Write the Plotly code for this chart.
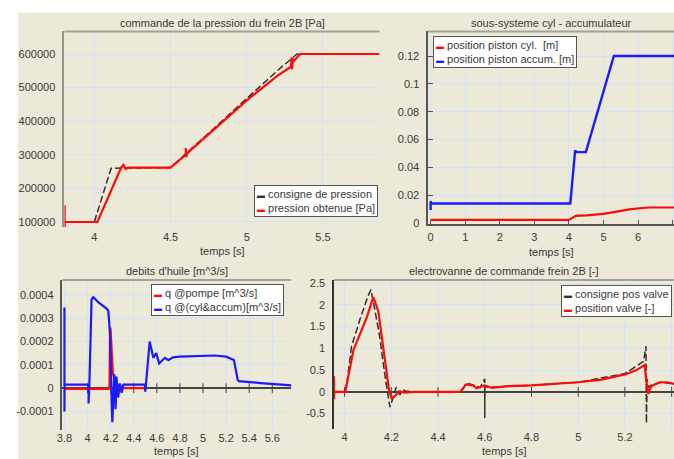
import plotly.graph_objects as go

# ---------------- data ----------------
# Panel 1 : commande de la pression du frein 2B [Pa]
p1_title = "commande de la pression du frein 2B [Pa]"
p1_names = ["consigne de pression", "pression obtenue [Pa]"]
p1_cons_t = [3.805, 4.0, 4.11, 4.2, 4.5, 4.8, 5.0, 5.2, 5.33, 5.87]
p1_cons_p = [100000, 100000, 260000, 260000, 262000, 385000, 467000, 550000, 600000, 600000]
p1_obt_t = [3.805, 3.805, 3.806, 4.02, 4.176, 4.19, 4.205, 4.22, 4.5, 4.6, 4.6, 4.602, 4.61,
            4.8, 5.0, 5.2, 5.29, 5.295, 5.298, 5.302, 5.31, 5.35, 5.87]
p1_obt_p = [150000, 85000, 100000, 100000, 262000, 270000, 258000, 262000, 262000, 300000, 320000,
            293000, 305000, 382000, 462000, 535000, 562000, 590000, 555000, 585000, 580000, 600000, 600000]
p1_xticks = [4, 4.5, 5, 5.5]
p1_xtext = ["4", "4.5", "5", "5.5"]
p1_yticks = [100000, 200000, 300000, 400000, 500000, 600000]
p1_ytext = ["100000", "200000", "300000", "400000", "500000", "600000"]

# Panel 2 : sous-systeme cyl - accumulateur
p2_title = "sous-systeme cyl - accumulateur"
p2_names = ["position piston cyl.  [m]", "position piston accum. [m]"]
p2_cyl_t = [0, 4.0, 4.2, 4.5, 5.0, 5.5, 5.8, 6.3, 7.05]
p2_cyl_y = [0.0023, 0.0023, 0.0052, 0.0055, 0.0066, 0.0085, 0.0100, 0.0112, 0.0112]
p2_acc_t = [0, 0, 0.03, 4.04, 4.18, 4.22, 4.49, 5.30, 7.05]
p2_acc_y = [0.0094, 0.0157, 0.0141, 0.0141, 0.0522, 0.0510, 0.0510, 0.12, 0.12]
p2_xticks = [0, 1, 2, 3, 4, 5, 6, 7]
p2_xtext = ["0", "1", "2", "3", "4", "5", "6", "7"]
p2_yticks = [0, 0.02, 0.04, 0.06, 0.08, 0.1, 0.12]
p2_ytext = ["0", "0.02", "0.04", "0.06", "0.08", "0.1", "0.12"]

# Panel 3 : debits d'huile [m^3/s]
p3_title = "debits d'huile [m^3/s]"
p3_names = ["q @pompe [m^3/s]", "q @(cyl&accum)[m^3/s]"]
p3_pompe_t = [3.8, 4.19, 4.195, 4.2, 4.21, 4.22, 4.24, 4.27, 4.3, 4.5]
p3_pompe_q = [-0.000003, -0.000003, 0.00026, 0.00025, 0.00015, 0.00006, 0.00003, 0.00001, 0.0, 0.0]
p3_cyl_t = [3.8, 3.8, 3.801, 4.009, 4.009, 4.015, 4.035, 4.05, 4.1, 4.167, 4.18, 4.195, 4.21, 4.215,
            4.232, 4.243, 4.25, 4.265, 4.28, 4.295, 4.31, 4.496, 4.5, 4.52, 4.538, 4.57, 4.595,
            4.62, 4.67, 4.7, 4.74, 4.8, 5.0, 5.1, 5.2, 5.268, 5.3, 5.31, 5.5, 5.766]
p3_cyl_q = [0.000346, -0.0001, 0.000015, 0.000015, -0.000066, 0.0, 0.00038, 0.00039, 0.000365, 0.00034,
            0.00033, 0.00023, -0.00008, -0.000146, 0.00006, -0.00009, 0.00005, -0.00004, 0.00002,
            -0.00002, 0.000015, 0.000015, -0.000015, 0.0001, 0.0002, 0.00013, 0.00015, 0.000106,
            0.00013, 0.00012, 0.000132, 0.000135, 0.00014, 0.00014, 0.000135, 0.000121, 0.000037,
            0.00003, 0.000022, 0.000012]
p3_xticks = [3.8, 4.0, 4.2, 4.4, 4.6, 4.8, 5.0, 5.2, 5.4, 5.6]
p3_xtext = ["3.8", "4", "4.2", "4.4", "4.6", "4.8", "5", "5.2", "5.4", "5.6"]
p3_yticks = [-0.0001, 0, 0.0001, 0.0002, 0.0003, 0.0004]
p3_ytext = ["-0.0001", "0", "0.0001", "0.0002", "0.0003", "0.0004"]

# Panel 4 : electrovanne de commande frein 2B [-]
p4_title = "electrovanne de commande frein 2B [-]"
p4_names = ["consigne pos valve", "position valve [-]"]
p4_cons_t = [3.955, 4.0, 4.01, 4.03, 4.065, 4.1, 4.113, 4.148, 4.173, 4.194, 4.21, 4.22, 4.237, 4.25,
             4.26, 4.3, 4.5, 4.52, 4.55, 4.58, 4.6, 4.6, 4.6, 4.62, 4.7, 4.8, 5.0, 5.2, 5.28, 5.29,
             5.292, 5.295, 5.3, 5.31, 5.35, 5.415]
p4_cons_v = [0, 0, 0.2, 1.05, 1.65, 2.2, 2.35, 1.35, 0.37, -0.35, -0.1, 0.1, -0.06, 0.05, 0.02, 0, 0,
             0.2, 0.16, 0.1, 0.3, -0.6, 0.12, 0.1, 0.13, 0.15, 0.22, 0.42, 0.7, 1.05, -0.72, 0.3, 0.1,
             0.15, 0.22, 0.18]
p4_pos_t = [3.955, 3.955, 3.956, 4.003, 4.038, 4.095, 4.123, 4.144, 4.165, 4.19, 4.201, 4.215, 4.236,
            4.257, 4.3, 4.495, 4.52, 4.55, 4.565, 4.6, 4.63, 4.65, 4.7, 4.8, 4.9, 5.0, 5.1, 5.2, 5.25,
            5.285, 5.29, 5.3, 5.31, 5.32, 5.35, 5.38, 5.415]
p4_pos_v = [0.36, -0.17, 0.0, 0.0, 0.96, 1.71, 2.18, 1.86, 1.03, 0.05, -0.15, -0.1, 0.015, -0.02, 0.0,
            0.0, 0.17, 0.15, 0.08, 0.15, 0.09, 0.1, 0.13, 0.15, 0.18, 0.22, 0.28, 0.4, 0.5, 0.62, 0.3,
            -0.05, 0.1, 0.15, 0.22, 0.22, 0.18]
p4_xticks = [4.0, 4.2, 4.4, 4.6, 4.8, 5.0, 5.2, 5.4]
p4_xtext = ["4", "4.2", "4.4", "4.6", "4.8", "5", "5.2", "5.4"]
p4_yticks = [-0.5, 0, 0.5, 1, 1.5, 2, 2.5]
p4_ytext = ["-0.5", "0", "0.5", "1", "1.5", "2", "2.5"]

xlabel = "temps [s]"

# ---------------- styling ----------------
W, H = 674, 459
FONT = "Liberation Sans, Arial, sans-serif"
TXT = "#3a3a3a"
GRID = "#cfe4fb"
BEIGE = "#ece9d8"
RED = "#ff0a0a"
BLUE = "#1a1aff"
DASH = "#303030"


def fx(px):
    return px / W


def fy(py):
    return 1 - py / H


fig = go.Figure()

# panel 1
fig.add_trace(go.Scatter(x=p1_cons_t, y=p1_cons_p, mode="lines", xaxis="x", yaxis="y",
                         line=dict(color=DASH, width=1.5, dash="7px,3px")))
fig.add_trace(go.Scatter(x=p1_obt_t, y=p1_obt_p, mode="lines", xaxis="x", yaxis="y",
                         line=dict(color=RED, width=2.2)))
# panel 2
fig.add_trace(go.Scatter(x=p2_cyl_t, y=p2_cyl_y, mode="lines", xaxis="x2", yaxis="y2",
                         line=dict(color=RED, width=2.2)))
fig.add_trace(go.Scatter(x=p2_acc_t, y=p2_acc_y, mode="lines", xaxis="x2", yaxis="y2",
                         line=dict(color=BLUE, width=2.4)))
# panel 3 (ticks along zero line)
fig.add_trace(go.Scatter(x=p3_xticks, y=[0] * len(p3_xticks), mode="markers", xaxis="x3", yaxis="y3",
                         marker=dict(symbol="line-ns", size=7, line=dict(color="#444", width=1))))
fig.add_trace(go.Scatter(x=p3_pompe_t, y=p3_pompe_q, mode="lines", xaxis="x3", yaxis="y3",
                         line=dict(color=RED, width=2.2)))
fig.add_trace(go.Scatter(x=p3_cyl_t, y=p3_cyl_q, mode="lines", xaxis="x3", yaxis="y3",
                         line=dict(color=BLUE, width=2.2)))
# panel 4
fig.add_trace(go.Scatter(x=p4_xticks, y=[0] * len(p4_xticks), mode="markers", xaxis="x4", yaxis="y4",
                         marker=dict(symbol="line-ns", size=7, line=dict(color="#444", width=1))))
fig.add_trace(go.Scatter(x=p4_cons_t, y=p4_cons_v, mode="lines", xaxis="x4", yaxis="y4",
                         line=dict(color=DASH, width=1.5, dash="7px,3px")))
fig.add_trace(go.Scatter(x=p4_pos_t, y=p4_pos_v, mode="lines", xaxis="x4", yaxis="y4",
                         line=dict(color=RED, width=2.2)))

tickfont = dict(family=FONT, size=11, color=TXT)


def xax(dom, rng, tv, tt, anchor, **kw):
    d = dict(domain=[fx(dom[0]), fx(dom[1])], range=rng, tickvals=tv, ticktext=tt, anchor=anchor,
             showgrid=True, gridcolor=GRID, gridwidth=1, zeroline=False, tickfont=tickfont,
             ticks="", showline=False, ticklabelstandoff=2)
    d.update(kw)
    return d


def yax(dom, rng, tv, tt, anchor, **kw):
    d = dict(domain=[fy(dom[1]), fy(dom[0])], range=rng, tickvals=tv, ticktext=tt, anchor=anchor,
             showgrid=True, gridcolor=GRID, gridwidth=1, zeroline=False, tickfont=tickfont,
             ticks="", showline=True, linewidth=1.5, ticklabelstandoff=5)
    d.update(kw)
    return d


P1 = ([59, 377], [29, 228])
P2 = ([426, 674], [29, 225])
P3 = ([57, 288], [282, 435])
P4 = ([331, 674], [282, 434])

layout = dict(
    width=W, height=H, margin=dict(l=0, r=0, t=0, b=0),
    paper_bgcolor="white", plot_bgcolor="white", showlegend=False,
    font=dict(family=FONT, size=11, color=TXT),
    xaxis=xax(P1[0], [3.804, 5.872], p1_xticks, p1_xtext, "y"),
    yaxis=yax(P1[1], [85000, 667000], p1_yticks, p1_ytext, "x", linecolor="#9a928a", linewidth=2),
    xaxis2=xax(P2[0], [-0.07, 7.04], p2_xticks, p2_xtext, "y2", showline=True, linecolor="#555",
               linewidth=1.5, ticks="inside", ticklen=4, tickcolor="#555"),
    yaxis2=yax(P2[1], [-0.0007, 0.1376], p2_yticks, p2_ytext, "x2", linecolor="#555",
               ticks="inside", ticklen=5, tickcolor="#555"),
    xaxis3=xax(P3[0], [3.783, 5.766], p3_xticks, p3_xtext, "y3", ticklabelstandoff=0),
    yaxis3=yax(P3[1], [-0.000181, 0.000463], p3_yticks, p3_ytext, "x3", linecolor="#555",
               zeroline=True, zerolinecolor="#444", zerolinewidth=1.5),
    xaxis4=xax(P4[0], [3.955, 5.41], p4_xticks, p4_xtext, "y4", ticklabelstandoff=0),
    yaxis4=yax(P4[1], [-0.865, 2.57], p4_yticks, p4_ytext, "x4", linecolor="#333",
               zeroline=True, zerolinecolor="#444", zerolinewidth=1.5),
)
fig.update_layout(**layout)

# beige window background (white strip at top/left)
shapes = [dict(type="rect", xref="paper", yref="paper", x0=fx(12), x1=1.02, y0=-0.02, y1=fy(10),
               fillcolor=BEIGE, line=dict(width=0), layer="below")]
# top borders of plot frames
for ax, ay in [("x", "y"), ("x2", "y2"), ("x3", "y3"), ("x4", "y4")]:
    shapes.append(dict(type="line", xref=ax + " domain", yref=ay + " domain", x0=0, x1=1, y0=1, y1=1,
                       line=dict(color="#a8a098", width=2)))
fig.update_layout(shapes=shapes)

annots = []
# titles
for txt, dom in [(p1_title, P1), (p2_title, P2), (p3_title, P3), (p4_title, P4)]:
    annots.append(dict(text=txt, xref="paper", yref="paper", x=fx((dom[0][0] + dom[0][1]) / 2),
                       y=fy(dom[1][0] - 9), xanchor="center", yanchor="middle", showarrow=False,
                       font=dict(family=FONT, size=11, color=TXT)))
# x-axis titles
for dom, ypx in [(P1, 252), (P2, 253), (P3, 456), (P4, 456)]:
    annots.append(dict(text=xlabel, xref="paper", yref="paper", x=fx((dom[0][0] + dom[0][1]) / 2),
                       y=fy(ypx), xanchor="center", yanchor="middle", showarrow=False,
                       font=dict(family=FONT, size=11, color=TXT)))


def legend_text(names, colors):
    lines = []
    for n, c in zip(names, colors):
        lines.append("<span style='color:%s;font-size:8px'>\u25ac</span> %s" % (c, n))
    return "<br>".join(lines)


for names, colors, (lx, ly) in [
    (p1_names, [DASH, RED], (250, 185)),
    (p2_names, [RED, BLUE], (431, 34)),
    (p3_names, [RED, BLUE], (146, 286)),
    (p4_names, [DASH, RED], (560, 287)),
]:
    annots.append(dict(text=legend_text(names, colors), xref="paper", yref="paper", x=fx(lx), y=fy(ly),
                       xanchor="left", yanchor="top", align="left", showarrow=False,
                       bgcolor="white", bordercolor="#555", borderwidth=1, borderpad=2,
                       font=dict(family=FONT, size=11, color=TXT)))
fig.update_layout(annotations=annots)

# remove the browser's default 8px page margin so the 674x459 figure fills the window exactly
fig.write_html("out.html", config={"displayModeBar": False},
               post_script="document.body.style.margin='0px';")
